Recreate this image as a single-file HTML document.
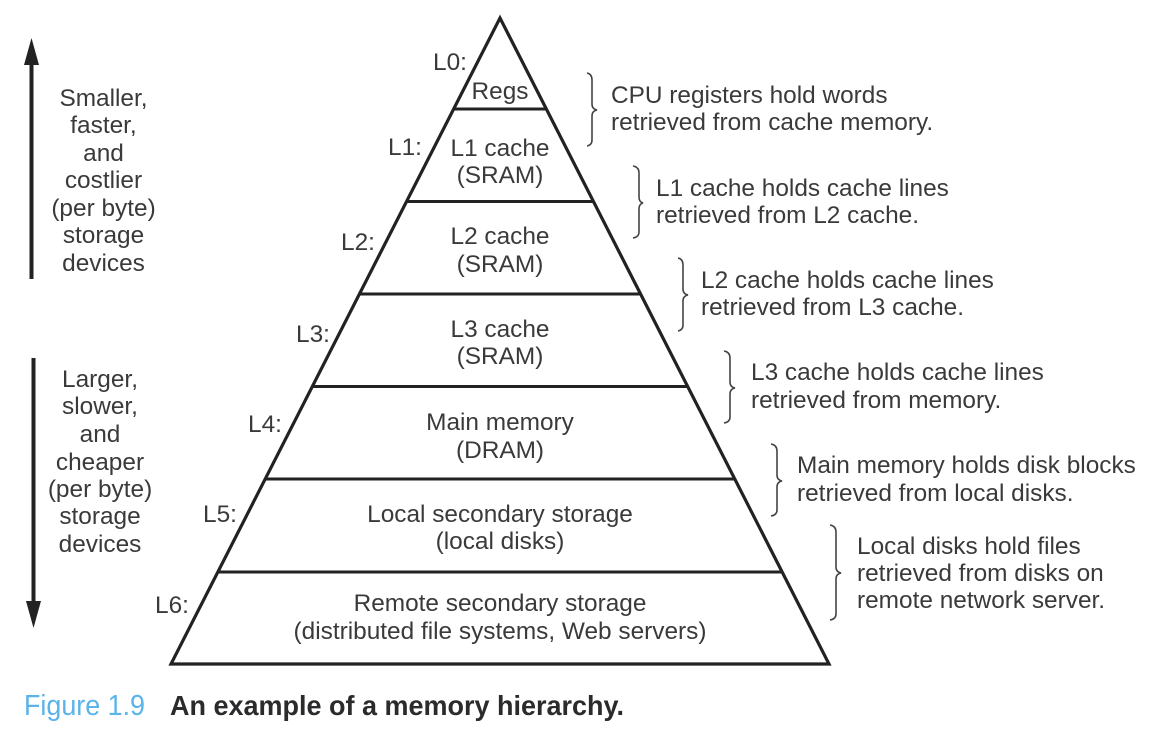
<!DOCTYPE html>
<html><head><meta charset="utf-8"><style>
html,body{margin:0;padding:0;background:#fff}
svg{display:block}
text{font-family:"Liberation Sans",sans-serif;font-size:24.4px;fill:#3a3a3c}
.c{text-anchor:middle}
.b{fill:none;stroke:#444;stroke-width:1.6}
</style></head><body>
<svg width="1176" height="740" viewBox="0 0 1176 740" xmlns="http://www.w3.org/2000/svg">
<rect width="1176" height="740" fill="#fff"/>
<path d="M500 18 L829 664 H171 Z" fill="none" stroke="#222" stroke-width="3.2" stroke-linejoin="miter"/>
<g stroke="#222" stroke-width="3">
<line x1="453" y1="109" x2="547" y2="109"/>
<line x1="406" y1="201.500" x2="594" y2="201.500"/>
<line x1="359" y1="294" x2="641" y2="294"/>
<line x1="312" y1="386.500" x2="688" y2="386.500"/>
<line x1="265" y1="479" x2="735" y2="479"/>
<line x1="218" y1="572" x2="782" y2="572"/>
</g>
<rect x="29.5" y="60" width="4" height="219" fill="#222"/>
<path d="M31.500 38 L39 65 H24 Z" fill="#222"/>
<rect x="31.500" y="358" width="4" height="246" fill="#222"/>
<path d="M33.500 628 L41 601 H26 Z" fill="#222"/>
<path class="b" d="M587 73 Q592 74 592 80 V104 Q592 109 597 110 Q592 111 592 116 V140 Q592 145 587 146"/>
<path class="b" d="M633 166 Q639 167 639 173 V197 Q639 202 643 203 Q639 204 639 209 V232 Q639 237 633 238"/>
<path class="b" d="M678 258 Q683 259 683 265 V289 Q683 294 688 295 Q683 296 683 301 V325 Q683 330 678 331"/>
<path class="b" d="M724 351 Q730 352 730 358 V382 Q730 387 735 388 Q730 389 730 394 V417 Q730 422 724 423"/>
<path class="b" d="M771 444 Q777 445 777 451 V475 Q777 480 782 481 Q777 482 777 487 V510 Q777 515 771 516"/>
<path class="b" d="M830 525 Q836 526 836 532 V567 Q836 572 841 573 Q836 574 836 579 V614 Q836 619 830 620"/>
<text class="c" x="103.500" y="106">Smaller,</text>
<text class="c" x="103.500" y="133">faster,</text>
<text class="c" x="103.500" y="161">and</text>
<text class="c" x="103.500" y="188">costlier</text>
<text class="c" x="103.500" y="216">(per byte)</text>
<text class="c" x="103.500" y="243">storage</text>
<text class="c" x="103.500" y="271">devices</text>
<text class="c" x="100" y="387">Larger,</text>
<text class="c" x="100" y="414">slower,</text>
<text class="c" x="100" y="442">and</text>
<text class="c" x="100" y="470">cheaper</text>
<text class="c" x="100" y="497">(per byte)</text>
<text class="c" x="100" y="524">storage</text>
<text class="c" x="100" y="552">devices</text>
<text class="c" x="500" y="99">Regs</text>
<text class="c" x="500" y="156">L1 cache</text>
<text class="c" x="500" y="183">(SRAM)</text>
<text class="c" x="500" y="244">L2 cache</text>
<text class="c" x="500" y="272">(SRAM)</text>
<text class="c" x="500" y="337">L3 cache</text>
<text class="c" x="500" y="364">(SRAM)</text>
<text class="c" x="500" y="430">Main memory</text>
<text class="c" x="500" y="458">(DRAM)</text>
<text class="c" x="500" y="522">Local secondary storage</text>
<text class="c" x="500" y="549">(local disks)</text>
<text class="c" x="500" y="611">Remote secondary storage</text>
<text class="c" x="500" y="639">(distributed file systems, Web servers)</text>
<text x="433" y="70">L0:</text>
<text x="388" y="155">L1:</text>
<text x="341" y="250">L2:</text>
<text x="296" y="342">L3:</text>
<text x="248" y="432">L4:</text>
<text x="203" y="522">L5:</text>
<text x="155" y="613">L6:</text>
<text x="611" y="103">CPU registers hold words</text>
<text x="611" y="130">retrieved from cache memory.</text>
<text x="656" y="196">L1 cache holds cache lines</text>
<text x="656" y="223">retrieved from L2 cache.</text>
<text x="701" y="288">L2 cache holds cache lines</text>
<text x="701" y="315">retrieved from L3 cache.</text>
<text x="751" y="380">L3 cache holds cache lines</text>
<text x="751" y="408">retrieved from memory.</text>
<text x="797" y="473">Main memory holds disk blocks</text>
<text x="797" y="501">retrieved from local disks.</text>
<text x="857" y="554">Local disks hold files</text>
<text x="857" y="581">retrieved from disks on</text>
<text x="857" y="608">remote network server.</text>
<text x="24" y="715" textLength="121" lengthAdjust="spacingAndGlyphs" style="font-size:29px;fill:#5ab4ea">Figure 1.9</text>
<text x="170" y="715" textLength="454" lengthAdjust="spacingAndGlyphs" style="font-size:28px;font-weight:bold;fill:#2b2b2d">An example of a memory hierarchy.</text>
</svg>
</body></html>
